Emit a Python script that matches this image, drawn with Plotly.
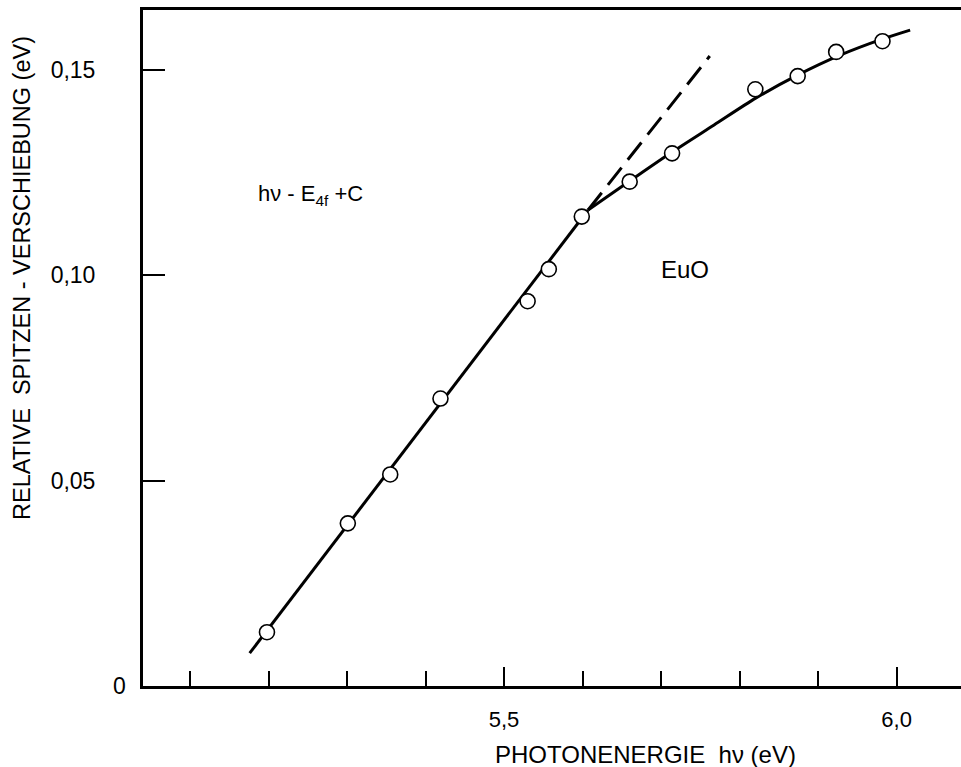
import plotly.graph_objects as go

# measured points: photon energy (eV) vs relative peak shift (eV)
energy = [5.198, 5.301, 5.355, 5.419, 5.530, 5.557, 5.599, 5.660, 5.714, 5.820, 5.874, 5.923, 5.982]
shift = [0.0131, 0.0396, 0.0515, 0.0700, 0.0937, 0.1015, 0.1143, 0.1228, 0.1297, 0.1453, 0.1485, 0.1544, 0.1570]

# straight part of the drawn curve
line_x = [5.176, 5.607]
line_y = [0.0080, 0.1159]
# bending part of the drawn curve
curve_x = [5.607, 5.6605, 5.714, 5.7675, 5.821, 5.8745, 5.928, 5.9815, 6.0172]
curve_y = [0.1159, 0.1230, 0.1300, 0.1366, 0.1432, 0.1488, 0.1536, 0.1575, 0.1597]
# dashed extrapolation  h nu - E4f + C
dash_x = [5.607, 5.762]
dash_y = [0.1159, 0.1534]

x_major = [5.5, 6.0]
x_major_text = ["5,5", "6,0"]
y_ticks = [0.05, 0.10, 0.15]
y_tick_text = ["0,05", "0,10", "0,15"]

FONT = "Liberation Sans, Arial, sans-serif"

fig = go.Figure()
fig.add_trace(go.Scatter(x=line_x, y=line_y, mode="lines",
                         line=dict(color="black", width=3), hoverinfo="skip"))
fig.add_trace(go.Scatter(x=curve_x, y=curve_y, mode="lines",
                         line=dict(color="black", width=3, shape="spline", smoothing=0.8),
                         hoverinfo="skip"))
fig.add_trace(go.Scatter(x=dash_x, y=dash_y, mode="lines",
                         line=dict(color="black", width=3, dash="22px,10px"), hoverinfo="skip"))
fig.add_trace(go.Scatter(x=energy, y=shift, mode="markers",
                         marker=dict(symbol="circle", size=15, color="white",
                                     line=dict(color="black", width=1.6))))


def px_x(p):
    return (p - 143) / (961 - 143)


def px_y(p):
    return (686 - p) / (686 - 10)


def note(text, x, y, size, angle=0):
    fig.add_annotation(text=text, xref="paper", yref="paper", x=px_x(x), y=px_y(y),
                       xanchor="center", yanchor="middle", showarrow=False,
                       textangle=angle, font=dict(family=FONT, size=size, color="black"))


note("h\u03bd - E<sub>4f</sub> +C", 310, 195, 22)
note("EuO", 685, 269, 24)
note("0", 119, 686, 23)
note("PHOTONENERGIE  h\u03bd (eV)", 645, 754, 24)
note("RELATIVE  SPITZEN - VERSCHIEBUNG (eV)", 22, 278, 23.5, angle=-90)

fig.update_layout(
    width=961, height=767,
    margin=dict(l=143, r=0, t=10, b=81),
    paper_bgcolor="white", plot_bgcolor="white",
    showlegend=False,
    font=dict(family=FONT, color="black"),
)
fig.update_xaxes(
    range=[5.0401, 6.082], showgrid=False, zeroline=False,
    showline=True, linecolor="black", linewidth=3, mirror=True,
    tickmode="array", tickvals=x_major, ticktext=x_major_text,
    ticks="inside", ticklen=19, tickwidth=2, tickcolor="black",
    ticklabelstandoff=12, tickfont=dict(family=FONT, size=22, color="black"),
    minor=dict(tick0=5.1, dtick=0.1, ticks="inside", ticklen=15, tickwidth=2, tickcolor="black"),
)
fig.update_yaxes(
    range=[0, 0.1646], showgrid=False, zeroline=False,
    showline=True, linecolor="black", linewidth=3, mirror=False,
    tickmode="array", tickvals=y_ticks, ticktext=y_tick_text,
    ticks="inside", ticklen=22, tickwidth=2, tickcolor="black",
    ticklabelstandoff=40, tickfont=dict(family=FONT, size=23, color="black"),
)

fig.write_html("out.html")
